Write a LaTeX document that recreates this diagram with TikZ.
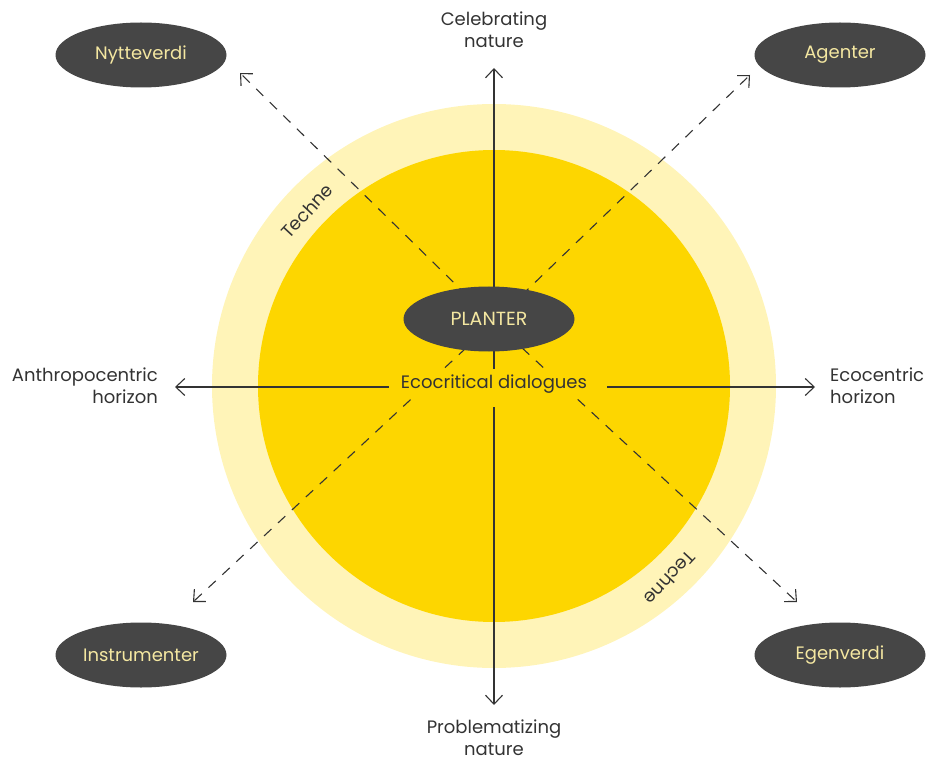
\documentclass[tikz,border=0pt]{standalone}
\usepackage{fontspec}
\setmainfont{Poppins}
\usetikzlibrary{arrows.meta,shapes.geometric}
\definecolor{ringyellow}{HTML}{FFF4B8}
\definecolor{coreyellow}{HTML}{FDD600}
\definecolor{blobgrey}{HTML}{464646}
\definecolor{paleyellow}{HTML}{F4E7A1}
\definecolor{inkgrey}{HTML}{333333}

\begin{document}
\begin{tikzpicture}[x=1pt,y=-1pt,
    blob/.style={ellipse,fill=blobgrey,text=paleyellow,minimum width=171pt,
      minimum height=65pt,inner sep=0pt,font=\fontsize{18}{22}\selectfont},
    axislabel/.style={text=inkgrey,inner sep=0pt,font=\fontsize{18}{22}\selectfont},
    axis/.style={draw=inkgrey,line width=1.1pt,
      -{Straight Barb[length=9pt,width=17pt,line width=1.1pt]}},
    diag/.style={axis,dash pattern=on 10pt off 9pt}
  ]
  \useasboundingbox (0,0) rectangle (926,759);
  % rings
  \fill[ringyellow] (494,386) circle (282pt);
  \fill[coreyellow] (494,386) circle (236pt);
  \node[axislabel,rotate=47] (techneA) at (307,211) {Techne};
  \node[axislabel,rotate=227] (techneB) at (670,578) {Techne};

  % labels of the four horizons
  \node[axislabel,align=center] (celebrating) at (494,30) {Celebrating\\nature};
  \node[axislabel,align=center] (problematizing) at (494,738) {Problematizing\\nature};
  \node[axislabel,align=right,anchor=east] (anthro) at (158,386) {Anthropocentric\\horizon};
  \node[axislabel,align=left,anchor=west] (eco) at (830,386) {Ecocentric\\horizon};

  % corner values
  \node[blob] (nytte) at (141,55) {Nytteverdi};
  \node[blob] (agenter) at (840,55) {Agenter};
  \node[blob] (instrument) at (141,655) {Instrumenter};
  \node[blob] (egen) at (840,655) {Egenverdi};

  \coordinate (hub) at (494,322);
  \coordinate (tipNW) at (240,73);
  \coordinate (tipNE) at (750,75);
  \coordinate (tipSW) at (193,602);
  \coordinate (tipSE) at (797,602);
  \coordinate (tipN) at (494,68);
  \coordinate (tipS) at (494,705);
  \coordinate (tipW) at (175,387);
  \coordinate (tipE) at (815,387);

  \foreach \t in {NW,NE,SW,SE}
    \draw[diag] (hub) -- (tip\t);

  \node[fill=coreyellow,text=inkgrey,inner xsep=12pt,inner ysep=6pt,
    font=\fontsize{18}{22}\selectfont] (dialogue) at (494,384) {Ecocritical dialogues};

  \draw[axis] (dialogue.north) -- (tipN);
  \draw[axis,shorten <=8pt] (dialogue.south) -- (tipS);
  \draw[axis] (dialogue.west |- tipW) -- (tipW);
  \draw[axis,shorten <=8pt] (dialogue.east |- tipE) -- (tipE);

  \node[blob,font=\fontsize{19}{22}\selectfont] (planter) at (489,319) {PLANTER};
\end{tikzpicture}
\end{document}
